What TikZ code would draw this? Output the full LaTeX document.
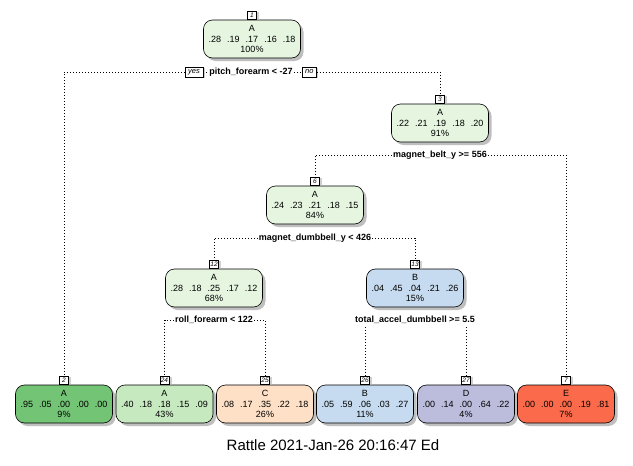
\documentclass[tikz,border=0pt]{standalone}
\usepackage{fontspec}
\setmainfont{Liberation Sans}
\usetikzlibrary{shadows}
\definecolor{pale}{RGB}{229,245,224}
\definecolor{gA}{RGB}{116,196,118}
\definecolor{gB}{RGB}{199,233,192}
\definecolor{pch}{RGB}{253,224,198}
\definecolor{lblue}{RGB}{198,219,239}
\definecolor{lav}{RGB}{188,189,220}
\definecolor{red}{RGB}{251,106,74}
\newcommand\gp{\hspace{6pt}}
\tikzset{
 tnode/.style={draw, line width=0.6pt, rounded corners=9pt, minimum width=97pt, minimum height=38pt, inner sep=0pt, align=center, font=\fontsize{9}{10.6}\selectfont, drop shadow={shadow xshift=3pt, shadow yshift=-3pt, fill=black!45, opacity=0.55}},
 nlab/.style={draw, fill=white, line width=0.5pt, minimum width=9pt, minimum height=8pt, inner sep=0.5pt, font=\fontsize{6.5}{6.5}\selectfont\itshape, anchor=south, drop shadow={shadow xshift=2.5pt, shadow yshift=-1pt, fill=black!30, opacity=0.6}},
 yn/.style={draw, fill=white, line width=0.5pt, minimum height=10pt, inner xsep=3pt, inner ysep=1pt, font=\fontsize{7.5}{7.5}\selectfont\itshape, drop shadow={shadow xshift=2pt, shadow yshift=-1pt, fill=black!30, opacity=0.6}},
 split/.style={font=\fontsize{9}{9}\selectfont\bfseries, inner sep=1pt},
 conn/.style={line width=0.8pt, dash pattern=on 0.8pt off 2.2pt},
}
\begin{document}
\begin{tikzpicture}[x=1pt,y=-1pt]
\useasboundingbox (0,0) rectangle (633,466);
\fill[white] (0,0) rectangle (633,466);
% split labels
\node[split] (s1) at (251,72) {pitch\_forearm < -27};
\node[yn, anchor=east] (yes) at ([xshift=-5pt]s1.west) {yes};
\node[yn, anchor=west] (no) at ([xshift=8pt]s1.east) {no};
\node[split] (s3) at (440,155) {magnet\_belt\_y >= 556};
\node[split] (s6) at (315,238) {magnet\_dumbbell\_y < 426};
\node[split] (s12) at (214,320) {roll\_forearm < 122};
\node[split] (s13) at (415,320) {total\_accel\_dumbbell >= 5.5};
% tree nodes
\node[tnode, fill=pale] (n1) at (252,39) {A\\.28\gp.19\gp.17\gp.16\gp.18\\100\%};
\node[tnode, fill=pale] (n3) at (440,123) {A\\.22\gp.21\gp.19\gp.18\gp.20\\91\%};
\node[tnode, fill=pale] (n6) at (315,205) {A\\.24\gp.23\gp.21\gp.18\gp.15\\84\%};
\node[tnode, fill=pale] (n12) at (214,288) {A\\.28\gp.18\gp.25\gp.17\gp.12\\68\%};
\node[tnode, fill=lblue] (n13) at (415,288) {B\\.04\gp.45\gp.04\gp.21\gp.26\\15\%};
\node[tnode, fill=gA] (n2) at (64,404) {A\\.95\gp.05\gp.00\gp.00\gp.00\\9\%};
\node[tnode, fill=gB] (n24) at (164.5,404) {A\\.40\gp.18\gp.18\gp.15\gp.09\\43\%};
\node[tnode, fill=pch] (n25) at (265,404) {C\\.08\gp.17\gp.35\gp.22\gp.18\\26\%};
\node[tnode, fill=lblue] (n26) at (365,404) {B\\.05\gp.59\gp.06\gp.03\gp.27\\11\%};
\node[tnode, fill=lav] (n27) at (466,404) {D\\.00\gp.14\gp.00\gp.64\gp.22\\4\%};
\node[tnode, fill=red] (n7) at (566,404) {E\\.00\gp.00\gp.00\gp.19\gp.81\\7\%};
% number labels
\node[nlab] (l1) at (n1.north) {1};
\node[nlab] (l3) at (n3.north) {3};
\node[nlab] (l6) at (n6.north) {6};
\node[nlab] (l12) at (n12.north) {12};
\node[nlab] (l13) at (n13.north) {13};
\node[nlab] (l2) at (n2.north) {2};
\node[nlab] (l24) at (n24.north) {24};
\node[nlab] (l25) at (n25.north) {25};
\node[nlab] (l26) at (n26.north) {26};
\node[nlab] (l27) at (n27.north) {27};
\node[nlab] (l7) at (n7.north) {7};
% connectors
\draw[conn] (yes.west) -| (l2.north);
\draw[conn] (yes.east) -- (s1.west);
\draw[conn] (s1.east) -- (no.west);
\draw[conn] (no.east) -| (l3.north);
\draw[conn] (s3.west) -| (l6.north);
\draw[conn] (s3.east) -| (l7.north);
\draw[conn] (s6.west) -| (l12.north);
\draw[conn] (s6.east) -| (l13.north);
\draw[conn] (s12.west) -| (l24.north);
\draw[conn] (s12.east) -| (l25.north);
\draw[conn] ([yshift=-2pt]s13.south -| l26.north) -- (l26.north);
\draw[conn] ([yshift=-2pt]s13.south -| l27.north) -- (l27.north);
% caption
\node[font=\fontsize{15}{15}\selectfont] (rattle) at (333,445) {Rattle 2021-Jan-26 20:16:47 Ed};
\end{tikzpicture}
\end{document}
